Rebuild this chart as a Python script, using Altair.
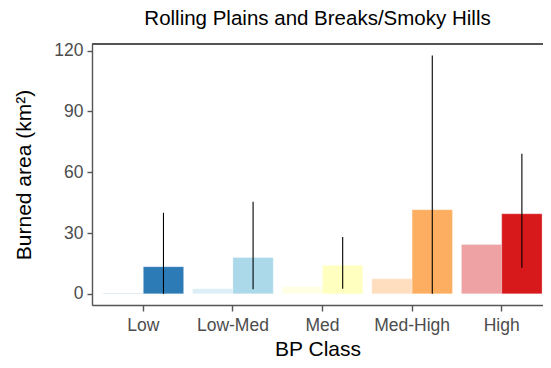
import altair as alt
import pandas as pd

classes = ["Low", "Low-Med", "Med", "Med-High", "High"]
colors = ["#2c7bb6", "#abd9e9", "#ffffbf", "#fdae61", "#d7191c"]
faded_vals = [0.3, 2.5, 3.6, 7.4, 24.4]
full_vals = [13.4, 18.0, 14.1, 41.5, 39.5]
err_low = [0.0, 2.3, 2.5, 0.0, 12.9]
err_high = [40.0, 45.4, 28.0, 117.6, 69.2]
y_ticks = [0, 30, 60, 90, 120]

rows = []
for c, f, v, lo, hi in zip(classes, faded_vals, full_vals, err_low, err_high):
    rows.append({"cls": c, "grp": "a", "value": f, "lo": None, "hi": None})
    rows.append({"cls": c, "grp": "b", "value": v, "lo": lo, "hi": hi})
df = pd.DataFrame(rows)
df_err = df[df["grp"] == "b"]

W, H = 451, 261
FONT = "Liberation Sans"

x_enc = alt.X(
    "cls:N", sort=classes, title="BP Class",
    scale=alt.Scale(paddingInner=0.1, paddingOuter=0.0667, align=0.92),
    axis=alt.Axis(labelAngle=0, labelFontSize=17.5, labelColor="#4d4d4d",
                  titleFontSize=21, titleColor="black", titleFontWeight="normal",
                  titlePadding=5, tickSize=6, labelPadding=5, domainColor="#555555",
                  tickColor="#555555", domainWidth=1.4, tickWidth=1.4),
)
xoff = alt.XOffset("grp:N", scale=alt.Scale(domain=["a", "b"], paddingInner=0, paddingOuter=0))
y_scale = alt.Scale(domain=[-5.5, 123.3], nice=False, zero=False)

bars = alt.Chart(df).mark_bar(stroke="white", strokeWidth=0.8, strokeOpacity=0.35).encode(
    x=x_enc,
    xOffset=xoff,
    y=alt.Y("value:Q", scale=y_scale, stack=None, title="Burned area (km²)",
            axis=alt.Axis(values=y_ticks, labelFontSize=17.5, labelColor="#4d4d4d",
                          titleFontSize=21, titleColor="black", titleFontWeight="normal",
                          titlePadding=19, tickSize=5, labelPadding=4, grid=False,
                          domainColor="#555555", tickColor="#555555",
                          domainWidth=1.4, tickWidth=1.4)),
    y2=alt.datum(0),
    color=alt.Color("cls:N", scale=alt.Scale(domain=classes, range=colors), legend=None),
    opacity=alt.Opacity("grp:N", scale=alt.Scale(domain=["a", "b"], range=[0.4, 1.0]), legend=None),
)

errs = alt.Chart(df_err).mark_rule(color="black", strokeWidth=1.1).encode(
    x=alt.X("cls:N", sort=classes),
    xOffset=xoff,
    y=alt.Y("lo:Q", scale=y_scale),
    y2="hi:Q",
)

top = alt.Chart(df_err).mark_rule(color="#555555", strokeWidth=1.4).encode(
    x=alt.value(0), x2=alt.value(W), y=alt.value(0)
)

chart = alt.layer(bars, errs, top).properties(
    width=W, height=H,
    title=alt.TitleParams("Rolling Plains and Breaks/Smoky Hills", fontSize=20.5,
                          font=FONT, fontWeight="normal", color="black",
                          anchor="middle", offset=12),
    autosize=alt.AutoSizeParams(type="none"),
    padding={"left": 84, "top": 36, "right": 0, "bottom": 56},
).configure_view(stroke=None).configure(font=FONT)

chart.save("out.html", embed_options={"renderer": "svg", "actions": False})
